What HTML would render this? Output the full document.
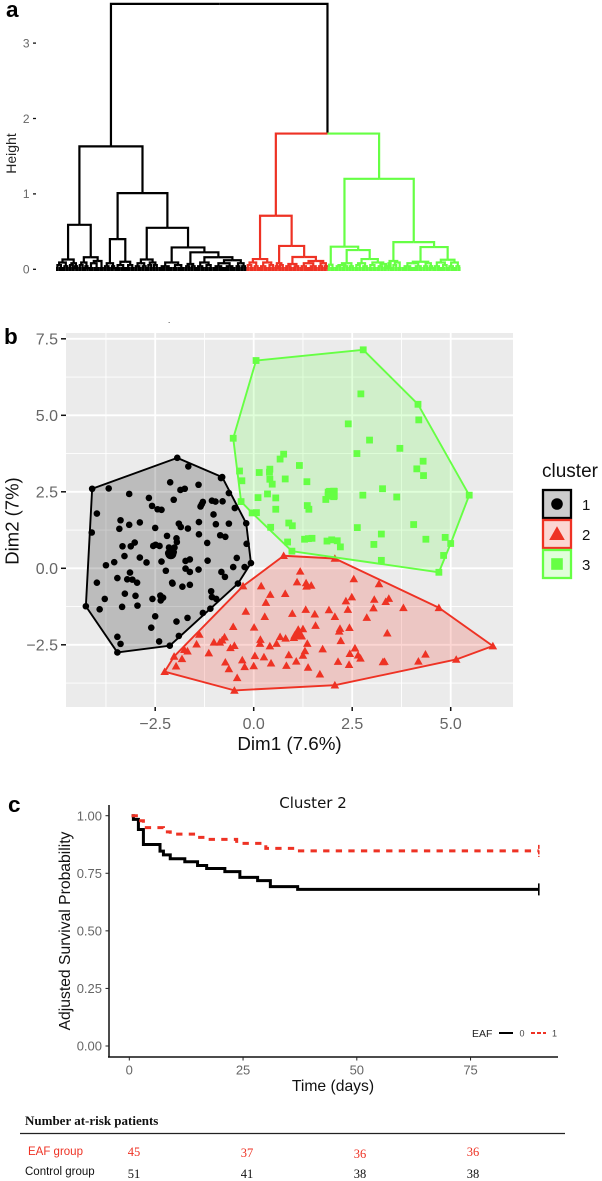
<!DOCTYPE html>
<html><head><meta charset="utf-8"><title>Cluster analysis figure</title>
<style>
html,body{margin:0;padding:0;background:#fff;}
svg{display:block;font-family:"Liberation Sans",sans-serif;}
</style></head>
<body>
<svg id="fig" xmlns="http://www.w3.org/2000/svg" width="602" height="1181" viewBox="0 0 602 1181">
<rect width="602" height="1181" fill="#fff"/>
<g id="pa"></g>
<g id="pb"></g>
<g id="pc"></g>

<text x="6" y="17" font-size="22.5" font-weight="bold">a</text>
<text transform="translate(16,153.5) rotate(-90)" text-anchor="middle" font-size="14" fill="#222">Height</text>
<text x="168" y="323" font-size="8">.</text>

<text x="4" y="344" font-size="22.5" font-weight="bold">b</text>
<text x="289.5" y="750" text-anchor="middle" font-size="18.8" fill="#111">Dim1 (7.6%)</text>
<text transform="translate(18.5,521) rotate(-90)" text-anchor="middle" font-size="18.5" fill="#111">Dim2 (7%)</text>
<text x="542" y="477" font-size="19" fill="#111">cluster</text>

<text x="8" y="812" font-size="22.5" font-weight="bold">c</text>
<text x="313" y="808" text-anchor="middle" font-family="DejaVu Sans, sans-serif" font-size="15" fill="#111">Cluster 2</text>
<text x="333" y="1091" text-anchor="middle" font-size="15.7" fill="#111">Time (days)</text>
<text transform="translate(70,931) rotate(-90)" text-anchor="middle" font-size="15.7" fill="#111">Adjusted Survival Probability</text>
<text x="472" y="1037" font-size="10.5" fill="#222">EAF</text>
<line x1="499" y1="1033" x2="513" y2="1033" stroke="#000" stroke-width="2"/>
<text x="519.5" y="1036.5" font-size="9" fill="#444">0</text>
<line x1="531" y1="1033" x2="546" y2="1033" stroke="#EE3224" stroke-width="2" stroke-dasharray="4,2"/>
<text x="552" y="1036.5" font-size="9" fill="#444">1</text>

<text x="25" y="1125" font-family="Liberation Serif, serif" font-weight="bold" font-size="13" fill="#111">Number at-risk patients</text>
<line x1="20" y1="1133.5" x2="565" y2="1133.5" stroke="#222" stroke-width="1.2"/>
<text x="28" y="1155" font-size="11.5" fill="#EE3224">EAF group</text>
<text x="25" y="1175" font-size="11.5" fill="#111">Control group</text>
<g font-family="Liberation Serif, serif" font-size="12.5" text-anchor="middle">
<text x="134" y="1156" fill="#EE3224">45</text>
<text x="247" y="1157" fill="#EE3224">37</text>
<text x="360" y="1158" fill="#EE3224">36</text>
<text x="473" y="1156" fill="#EE3224">36</text>
<text x="134" y="1178" fill="#111">51</text>
<text x="247" y="1178" fill="#111">41</text>
<text x="360" y="1178" fill="#111">38</text>
<text x="473" y="1178" fill="#111">38</text>
</g>
</svg>
<script>
/* ---------- panel a data: merge height, left subtree, right subtree; integers are leaf counts ---------- */
const rootHeight = 3.52;
const splitHeight = 1.80;
const blackTree = [1.63,
  [0.59,
    [0.13,[0.09,[0.055,2,3],[0.04,2,2]],[0.08,[0.055,2,2],[0.04,1,2]]],
    [0.16,[0.09,[0.055,2,2],[0.04,2,1]],[0.11,[0.08,4,4],3]]],
  [1.01,
    [0.40,[0.08,[0.04,2,3],[0.04,2,1]],[0.10,[0.055,4,4],[0.055,3,3]]],
    [0.55,
      [0.13,[0.08,[0.04,2,3],[0.04,2,2]],[0.09,[0.055,2,2],[0.055,2,2]]],
      [0.29,[0.09,[0.04,5,5],[0.055,4,5]],
        [0.225,[0.07,[0.04,2,2],[0.04,2,2]],
          [0.16,[0.09,[0.04,3,3],[0.055,3,3]],
            [0.12,[0.08,[0.04,4,4],[0.04,4,4]],[0.08,[0.04,2,2],[0.04,2,2]]]]]]]]];
const redTree = [0.71,
  [0.136,[0.09,[0.055,2,3],[0.04,2,2]],[0.09,[0.04,3,3],[0.055,3,2]]],
  [0.31,[0.08,[0.04,2,1],[0.055,2,2]],
    [0.163,[0.07,[0.04,3,3],[0.04,3,2]],
      [0.11,[0.08,[0.04,3,3],[0.04,4,3]],[0.08,[0.04,2,2],[0.04,2,1]]]]]];
const greenTree = [1.20,
  [0.30,[0.06,2,3],
    [0.255,[0.08,[0.055,[0.04,3,2],[0.04,3,2]],[0.04,2,2]],
      [0.136,[0.08,[0.055,3,2],[0.04,3,2]],
        [0.09,[0.055,3,3],[0.07,[0.04,3,2],[0.04,2,1]]]]]],
  [0.36,[0.11,[0.08,1,2],[0.09,[0.055,2,2],3]],
    [0.295,
      [0.10,[0.08,[0.04,4,4],[0.04,4,3]],[0.08,[0.04,2,2],[0.04,2,1]]],
      [0.127,[0.09,[0.04,3,3],[0.055,3,2]],[0.09,[0.04,2,3],[0.04,2,2]]]]]];
const dendroTicks = [0,1,2,3];

/* ---------- panel b data: Dim1, Dim2 per cluster ---------- */
const cluster1Dim1 = [-1.94,-1.66,-0.80,-0.83,-4.10,-3.68,-2.12,-1.40,-1.75,-1.86,-3.16,-0.63,-2.66,-2.03,-1.06,-0.97,-0.79,-1.29,-1.32,-1.35,-2.58,-2.44,-2.34,-0.48,-3.98,-1.02,-3.38,-2.89,-3.16,-1.90,-1.39,-0.96,-0.63,-0.19,-1.85,-1.67,-2.50,-3.41,-4.11,-1.39,-0.85,-0.72,-2.20,-1.96,-1.18,-0.18,-1.95,-3.33,-3.12,-3.02,-2.55,-2.49,-2.39,-2.15,-2.01,-2.09,-2.17,-2.09,-2.03,-3.28,-2.89,-2.72,-3.54,-3.75,-2.34,-1.73,-1.62,-1.17,-0.43,-0.07,-0.52,-0.23,-1.73,-1.62,-1.40,-2.23,-0.82,-0.73,-3.14,-3.21,-3.08,-2.96,-3.46,-3.98,-2.06,-2.07,-1.81,-1.62,-0.40,-3.27,-3.00,-3.78,-1.08,-1.06,-0.95,-2.37,-2.30,-2.36,-2.57,-4.26,-3.91,-3.34,-2.95,-1.10,-1.29,-2.50,-1.68,-1.96,-2.60,-1.90,-3.46,-3.38,-2.40,-2.13,-3.46];
const cluster1Dim2 = [3.61,3.33,2.98,2.95,2.60,2.61,2.81,2.73,2.60,2.56,2.43,2.46,2.30,2.24,2.21,2.18,2.19,2.17,2.09,2.02,2.04,1.93,1.91,1.97,1.79,1.76,1.57,1.50,1.42,1.46,1.51,1.44,1.46,1.47,1.35,1.30,1.32,1.29,1.17,1.11,1.08,1.03,1.06,0.98,0.83,0.80,0.86,0.72,0.72,0.84,0.73,0.77,0.73,0.68,0.68,0.59,0.50,0.42,0.53,0.40,0.35,0.19,0.20,0.10,0.22,0.24,0.29,0.25,0.34,0.17,0.04,0.04,-0.01,-0.12,-0.04,-0.08,-0.12,-0.28,-0.14,-0.36,-0.37,-0.47,-0.32,-0.47,-0.50,-0.47,-0.60,-0.54,-0.50,-0.83,-0.90,-1.00,-0.75,-0.94,-1.00,-0.89,-0.96,-1.05,-1.00,-1.24,-1.34,-1.26,-1.22,-1.32,-1.46,-1.57,-1.62,-1.74,-1.94,-2.21,-2.24,-2.47,-2.39,-2.53,-2.75];
const cluster2Dim1 = [0.76,2.06,1.18,2.54,1.10,1.33,1.34,1.46,3.18,0.19,-0.27,0.42,0.80,2.49,2.34,3.06,3.43,3.35,0.31,4.70,3.80,3.04,2.39,1.91,1.32,-0.20,0.98,1.55,2.06,0.28,2.87,-0.52,0.01,1.57,1.25,1.13,2.43,2.19,2.17,-1.38,3.39,1.17,1.04,1.02,1.21,0.67,0.81,0.17,-0.74,-0.80,-0.86,-1.01,-1.45,0.16,0.58,0.41,1.36,2.21,6.07,-0.49,-0.59,1.30,1.75,2.57,-1.68,-1.76,-1.14,-2.02,0.89,1.25,2.44,2.65,2.71,0.03,0.26,-1.82,-0.29,-0.72,1.08,2.14,0.44,3.32,3.28,4.18,4.36,5.14,-1.97,-0.63,-0.23,0.00,0.83,1.38,2.42,-2.26,1.68,-0.42,2.06,-0.49];
const cluster2Dim2 = [0.41,0.32,-0.10,-0.35,-0.45,-0.48,-0.59,-0.56,-0.51,-0.58,-0.58,-0.86,-0.83,-0.94,-1.07,-1.02,-0.99,-1.09,-1.12,-1.29,-1.29,-1.30,-1.35,-1.36,-1.35,-1.41,-1.48,-1.50,-1.58,-1.58,-1.61,-1.91,-1.93,-1.87,-1.98,-2.00,-1.94,-1.97,-2.06,-2.16,-2.12,-2.17,-2.19,-2.27,-2.22,-2.24,-2.29,-2.33,-2.25,-2.35,-2.42,-2.42,-2.48,-2.46,-2.46,-2.54,-2.46,-2.37,-2.54,-2.53,-2.60,-2.70,-2.64,-2.61,-2.71,-2.66,-2.77,-2.88,-2.83,-2.85,-2.79,-2.84,-2.94,-2.86,-2.90,-2.96,-3.00,-3.07,-3.04,-3.05,-3.10,-3.05,-3.06,-3.04,-2.81,-2.98,-3.20,-3.29,-3.22,-3.19,-3.18,-3.24,-3.15,-3.38,-3.46,-3.58,-3.82,-3.99];
const cluster3Dim1 = [2.78,0.06,2.72,4.17,4.19,2.40,2.94,3.71,2.62,-0.52,0.76,0.67,1.16,4.30,4.14,4.31,-0.36,0.14,0.41,0.40,-0.30,0.41,0.47,0.80,1.35,3.27,5.47,1.89,2.03,1.89,2.03,1.83,2.77,3.63,0.11,0.35,0.56,-0.32,1.36,1.40,0.56,-0.04,0.07,0.89,0.98,0.43,2.63,4.06,3.24,4.37,4.86,5.00,3.05,0.86,1.29,1.39,1.48,1.86,1.98,2.12,2.20,0.97,3.24,4.82,4.70];
const cluster3Dim2 = [7.14,6.79,5.70,5.36,4.85,4.72,4.19,3.92,3.75,4.25,3.73,3.57,3.36,3.50,3.25,3.03,3.18,3.13,3.24,3.14,2.86,2.91,2.75,2.92,2.83,2.60,2.39,2.49,2.52,2.39,2.34,2.25,2.39,2.33,2.31,2.43,2.30,2.18,2.05,1.93,1.93,1.81,1.82,1.48,1.39,1.34,1.33,1.43,1.12,0.95,1.01,0.81,0.78,0.86,0.95,0.97,0.98,0.89,0.93,0.90,0.70,0.56,0.26,0.42,-0.13];
const xMajorTicks = [-2.5,0,2.5,5];
const yMajorTicks = [-2.5,0,2.5,5,7.5];
const xMinorTicks = [-3.75,-1.25,1.25,3.75];
const yMinorTicks = [-3.75,-1.25,1.25,3.75,6.25];
const xTickLabels = ["\u22122.5","0.0","2.5","5.0"];
const yTickLabels = ["\u22122.5","0.0","2.5","5.0","7.5"];
const clusterNames = ["1","2","3"];

/* ---------- panel c data: step curves ---------- */
const controlTimes = [0.5,0.9,2,3.1,6.75,7.5,9,12.2,15,17,21,24.3,28.2,31,37,90];
const controlSurv  = [1,0.984,0.94,0.875,0.846,0.83,0.813,0.80,0.784,0.771,0.757,0.732,0.718,0.692,0.68,0.68];
const eafTimes = [0.5,2,3.1,7.5,9,15,17,23.6,30,37,90];
const eafSurv  = [1,0.978,0.948,0.93,0.92,0.906,0.897,0.88,0.858,0.847,0.847];
const survTimeTicks = [0,25,50,75];
const survProbTicks = [0,0.25,0.5,0.75,1];
const survProbLabels = ["0.00","0.25","0.50","0.75","1.00"];

const NS = "http://www.w3.org/2000/svg";
const RED = "#EE3224", GREEN = "#66FF44", BLACK = "#000";
function mk(parent, tag, attrs){
  const e = document.createElementNS(NS, tag);
  for (const k in attrs) e.setAttribute(k, attrs[k]);
  parent.appendChild(e);
  return e;
}

/* ---------- panel a ---------- */
const pa = document.getElementById('pa');
const dY = h => 269.3 - 75.4 * h;
const dX = i => 56 + 1.4 * i;
let leafCursor = 0;
function layout(n){
  if (typeof n === 'number'){
    const start = leafCursor;
    leafCursor += n;
    return {h:0, pos:start + n/2, start:start, n:n, leaf:true};
  }
  const l = layout(n[1]), r = layout(n[2]);
  return {h:n[0], l:l, r:r, pos:(l.pos + r.pos)/2};
}
function leg(parentH, parentPos, child, color, name){
  const p = mk(pa, 'polyline', {points:dX(parentPos)+','+dY(parentH)+' '+dX(child.pos)+','+dY(parentH)+' '+dX(child.pos)+','+dY(child.h), fill:'none', stroke:color, 'stroke-width':2.2});
  
  
}
function drawTree(n, color){
  if (n.leaf){
    const b = mk(pa, 'line', {x1:dX(n.start), y1:dY(0)-0.3, x2:dX(n.start+n.n), y2:dY(0)-0.3, stroke:color, 'stroke-width':4});
    
    
    return;
  }
  leg(n.h, n.pos, n.l, color, 'dendrogram-branch');
  leg(n.h, n.pos, n.r, color, 'dendrogram-branch');
  drawTree(n.l, color);
  drawTree(n.r, color);
}
const bT = layout(blackTree), rT = layout(redTree), gT = layout(greenTree);
const splitPos = (rT.pos + gT.pos)/2;
const splitNode = {h:splitHeight, pos:splitPos};
const rootPos = (bT.pos + splitPos)/2;
leg(rootHeight, rootPos, bT, BLACK, 'dendrogram-root-left');
leg(rootHeight, rootPos, splitNode, BLACK, 'dendrogram-root-right');
leg(splitHeight, splitPos, rT, RED, 'dendrogram-split-red');
leg(splitHeight, splitPos, gT, GREEN, 'dendrogram-split-green');
drawTree(bT, BLACK);
drawTree(rT, RED);
drawTree(gT, GREEN);
dendroTicks.forEach(v => {
  const t = mk(pa, 'line', {x1:33, x2:36, y1:dY(v), y2:dY(v), stroke:'#111', 'stroke-width':1.3});
  
  
  const l = mk(pa, 'text', {x:29.5, y:dY(v)+4.3, 'text-anchor':'end', 'font-size':12, fill:'#666'});
  
  
  l.textContent = v;
});

/* ---------- panel b ---------- */
const pb = document.getElementById('pb');
const sX = v => 253.7 + 39.4 * v;
const sY = v => 568.3 - 30.6 * v;
const PL = 66, PR = 513, PT = 333, PB = 707;
const panelBg = mk(pb, 'rect', {x:PL, y:PT, width:PR-PL, height:PB-PT, fill:'#ebebeb'});


function gridV(v, w){
  const g = mk(pb, 'line', {x1:sX(v), x2:sX(v), y1:PT, y2:PB, stroke:'#fff', 'stroke-width':w});
  
  
}
function gridH(v, w){
  const g = mk(pb, 'line', {x1:PL, x2:PR, y1:sY(v), y2:sY(v), stroke:'#fff', 'stroke-width':w});
  
  
}
xMinorTicks.forEach(v => gridV(v, 0.9));
yMinorTicks.forEach(v => gridH(v, 0.9));
xMajorTicks.forEach(v => gridV(v, 1.8));
yMajorTicks.forEach(v => gridH(v, 1.8));

function marker(g, kind, cx, cy, s, color){
  let m;
  if (kind === 0) m = mk(g, 'circle', {cx:cx, cy:cy, r:s, fill:color});
  else if (kind === 1) m = mk(g, 'polygon', {points:cx+','+(cy-s*1.3)+' '+(cx+s*1.3)+','+(cy+s)+' '+(cx-s*1.3)+','+(cy+s), fill:color});
  else m = mk(g, 'rect', {x:cx-s, y:cy-s, width:2*s, height:2*s, fill:color});
  
  
  return m;
}
function hull(xs, ys){
  const idx = xs.map((_, i) => i).sort((a, b) => xs[a] - xs[b] || ys[a] - ys[b]);
  const cross = (o, a, b) => (xs[a]-xs[o])*(ys[b]-ys[o]) - (ys[a]-ys[o])*(xs[b]-xs[o]);
  const lo = [], up = [];
  idx.forEach(i => { while (lo.length > 1 && cross(lo[lo.length-2], lo[lo.length-1], i) <= 0) lo.pop(); lo.push(i); });
  idx.slice().reverse().forEach(i => { while (up.length > 1 && cross(up[up.length-2], up[up.length-1], i) <= 0) up.pop(); up.push(i); });
  return lo.slice(0,-1).concat(up.slice(0,-1));
}
const mean = a => a.reduce((s, v) => s + v, 0) / a.length;
const clusterX = [cluster1Dim1, cluster2Dim1, cluster3Dim1];
const clusterY = [cluster1Dim2, cluster2Dim2, cluster3Dim2];
const clusterColors = [BLACK, RED, GREEN];
const markerSizes = [3.3, 3.3, 3.4];
clusterX.forEach((xs, c) => {
  const ys = clusterY[c];
  xs.forEach((x, i) => marker(pb, c, sX(x), sY(ys[i]), markerSizes[c], clusterColors[c]));
  marker(pb, c, sX(mean(xs)), sY(mean(ys)), markerSizes[c] * 1.7, clusterColors[c]);
});
clusterX.forEach((xs, c) => {
  const ys = clusterY[c];
  const pts = hull(xs, ys).map(i => sX(xs[i]) + ',' + sY(ys[i])).join(' ');
  const h = mk(pb, 'polygon', {points:pts, fill:clusterColors[c], 'fill-opacity':0.2, stroke:clusterColors[c], 'stroke-width':1.9, 'stroke-linejoin':'round'});
  
  
});
xMajorTicks.forEach((v, i) => {
  const t = mk(pb, 'line', {x1:sX(v), x2:sX(v), y1:PB, y2:PB+4, stroke:'#111', 'stroke-width':1.5});
  
  
  const l = mk(pb, 'text', {x:sX(v), y:729, 'text-anchor':'middle', 'font-size':16, fill:'#666'});
  
  
  l.textContent = xTickLabels[i];
});
yMajorTicks.forEach((v, i) => {
  const t = mk(pb, 'line', {x1:PL-5, x2:PL, y1:sY(v), y2:sY(v), stroke:'#111', 'stroke-width':1.5});
  
  
  const l = mk(pb, 'text', {x:58, y:sY(v)+5.6, 'text-anchor':'end', 'font-size':16, fill:'#666'});
  
  
  l.textContent = yTickLabels[i];
});
clusterNames.forEach((name, c) => {
  const ky = 489 + 30 * c;
  const k = mk(pb, 'rect', {x:543, y:ky+1, width:28, height:28, fill:clusterColors[c], 'fill-opacity':0.2, stroke:clusterColors[c], 'stroke-width':2.3});
  
  
  marker(pb, c, 557, ky+15, c === 1 ? 6 : 5.8, clusterColors[c]);
  const l = mk(pb, 'text', {x:582, y:ky+21, 'font-size':15, fill:'#111'});
  
  
  l.textContent = name;
});

/* ---------- panel c ---------- */
const pc = document.getElementById('pc');
const kX = t => 129.3 + 4.55 * t;
const kY = s => 1046 - 230.3 * s;
const axisLines = [[109,805,109,1057.5,'survival-y-axis'],[108,1057,558,1057,'survival-x-axis']];
axisLines.forEach(a => {
  const l = mk(pc, 'line', {x1:a[0], y1:a[1], x2:a[2], y2:a[3], stroke:'#111', 'stroke-width':1.5});
  
  
});
survProbTicks.forEach((v, i) => {
  const t = mk(pc, 'line', {x1:105.5, x2:109, y1:kY(v), y2:kY(v), stroke:'#222', 'stroke-width':1});
  
  
  const l = mk(pc, 'text', {x:102, y:kY(v)+4.7, 'text-anchor':'end', 'font-size':13, fill:'#666'});
  
  
  l.textContent = survProbLabels[i];
});
survTimeTicks.forEach(v => {
  const t = mk(pc, 'line', {x1:kX(v), x2:kX(v), y1:1057, y2:1060.5, stroke:'#222', 'stroke-width':1});
  
  
  const l = mk(pc, 'text', {x:kX(v), y:1074.5, 'text-anchor':'middle', 'font-size':13, fill:'#666'});
  
  
  l.textContent = v;
});
function stepPath(ts, ss){
  let d = 'M' + kX(ts[0]) + ' ' + kY(ss[0]);
  for (let i = 1; i < ts.length; i++) d += 'H' + kX(ts[i]) + 'V' + kY(ss[i]);
  return d;
}
const controlCurve = mk(pc, 'path', {d:stepPath(controlTimes, controlSurv), fill:'none', stroke:BLACK, 'stroke-width':3});


const eafCurve = mk(pc, 'path', {d:stepPath(eafTimes, eafSurv), fill:'none', stroke:RED, 'stroke-width':3, 'stroke-dasharray':'6.3,6.3'});


const lastT = controlTimes[controlTimes.length-1];
const controlCensor = mk(pc, 'line', {x1:kX(lastT), x2:kX(lastT), y1:kY(controlSurv[controlSurv.length-1])-6, y2:kY(controlSurv[controlSurv.length-1])+6, stroke:BLACK, 'stroke-width':1.6});


const eafCensor = mk(pc, 'line', {x1:kX(lastT), x2:kX(lastT), y1:kY(eafSurv[eafSurv.length-1])-6, y2:kY(eafSurv[eafSurv.length-1])+6, stroke:RED, 'stroke-width':1.6, 'stroke-dasharray':'4,1.5'});


</script>
</body></html>
